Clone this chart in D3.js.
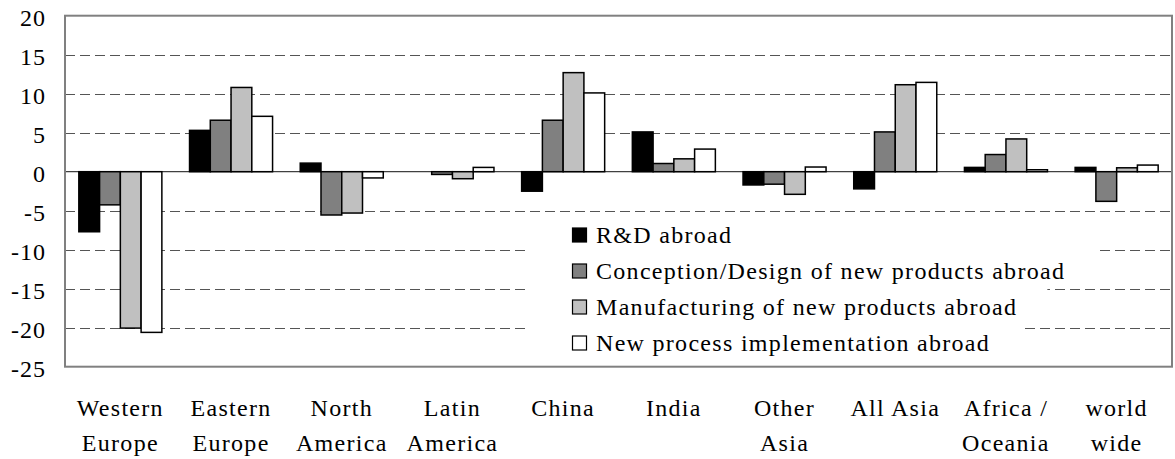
<!DOCTYPE html>
<html><head><meta charset="utf-8">
<script src="https://cdn.jsdelivr.net/npm/d3@7"></script>
<style>body{margin:0;background:#fff} svg text{font-family:"Liberation Serif","DejaVu Serif",serif;}</style>
</head><body>
<svg id="chart" width="1175" height="459"></svg>
<script>
const categories = ["Western\nEurope","Eastern\nEurope","North\nAmerica","Latin\nAmerica","China","India","Other\nAsia","All Asia","Africa /\nOceania","world\nwide"];
const seriesNames = ["R&D abroad","Conception/Design of new products abroad","Manufacturing of new products abroad","New process implementation abroad"];
const rdAbroad       = [-7.7, 5.3, 1.1, 0, -2.5, 5.1, -1.7, -2.2, 0.55, 0.55];
const conception     = [-4.25, 6.6, -5.55, -0.35, 6.6, 1.05, -1.6, 5.1, 2.2, -3.8];
const manufacturing  = [-20.05, 10.8, -5.3, -0.9, 12.7, 1.65, -2.9, 11.15, 4.2, 0.5];
const newProcess     = [-20.6, 7.1, -0.8, 0.55, 10.1, 2.9, 0.6, 11.45, 0.25, 0.85];
const yTicks = [20, 15, 10, 5, 0, -5, -10, -15, -20, -25];
const seriesColors = ["#000000","#808080","#c0c0c0","#ffffff"];

const allSeries = [rdAbroad, conception, manufacturing, newProcess];
const svg = d3.select("#chart");
const L = 65, R = 1172, T = 15.7, B = 366.7;

const y = d3.scaleLinear().domain([-25, 20]).range([B, T]);
const x = d3.scaleBand().domain(categories).range([L, R]).paddingInner(0.25).paddingOuter(0.125);
const xs = d3.scaleBand().domain(d3.range(4)).range([0, x.bandwidth()]).padding(0);

// gridlines
svg.append("g").selectAll("line").data(yTicks.filter(t => t !== 20 && t !== -25 && t !== 0))
  .join("line")
  .attr("x1", L).attr("x2", R)
  .attr("y1", d => Math.round(y(d)) + 0.5).attr("y2", d => Math.round(y(d)) + 0.5)
  .attr("stroke", "#555").attr("stroke-width", 1).attr("stroke-dasharray", "10,5");

// zero line
svg.append("line").attr("x1", L).attr("x2", R)
  .attr("y1", y(0)).attr("y2", y(0)).attr("stroke", "#404040").attr("stroke-width", 1.2);

// bars
const g = svg.append("g");
allSeries.forEach((vals, si) => {
  g.append("g").selectAll("rect").data(vals.map((v, i) => ({v, c: categories[i]})))
    .join("rect")
    .attr("x", d => x(d.c) + xs(si))
    .attr("width", xs.bandwidth())
    .attr("y", d => y(Math.max(0, d.v)))
    .attr("height", d => Math.abs(y(d.v) - y(0)))
    .attr("fill", seriesColors[si])
    .attr("stroke", "#000").attr("stroke-width", 1.5);
});

// legend: each entry on its own white background
const legendBg = svg.append("g");
const legend = svg.append("g");
seriesNames.forEach((name, i) => {
  const by = 243 + i * 36;
  legend.append("rect").attr("x", 572.5).attr("y", by - 15).attr("width", 14).attr("height", 14)
    .attr("fill", seriesColors[i]).attr("stroke", "#000").attr("stroke-width", 1.2);
  const t = legend.append("text").attr("x", 596).attr("y", by).text(name)
    .attr("font-size", 24).attr("letter-spacing", "1.3px").attr("fill", "#000");
  const w = t.node().getComputedTextLength();
  legendBg.append("rect").attr("x", 525).attr("y", by - 30).attr("width", 596 + w + 30 - 525).attr("height", 36)
    .attr("fill", "#fff");
});

// plot border
svg.append("rect").attr("x", L).attr("y", T).attr("width", R - L).attr("height", B - T)
  .attr("fill", "none").attr("stroke", "#808080").attr("stroke-width", 2);

// y tick labels
svg.append("g").selectAll("text").data(yTicks).join("text")
  .attr("x", 46).attr("y", d => y(d) + 10)
  .attr("text-anchor", "end")
  .attr("font-size", 24).attr("letter-spacing", "1px").attr("fill", "#000")
  .text(d => d);

// category labels
svg.append("g").selectAll("text").data(categories).join("text")
  .attr("font-size", 24).attr("letter-spacing", "1.3px").attr("fill", "#000")
  .attr("text-anchor", "middle")
  .each(function(d) {
    const t = d3.select(this);
    d.split("\n").forEach((line, li) => {
      t.append("tspan").attr("x", x(d) + x.bandwidth() / 2).attr("y", 416 + li * 35).text(line);
    });
  });
</script>
</body></html>
